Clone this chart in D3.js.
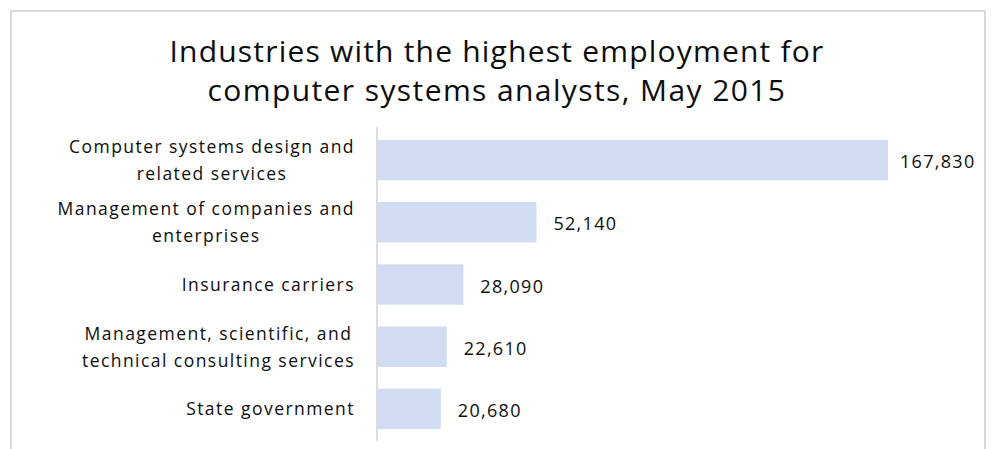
<!DOCTYPE html>
<html>
<head>
<meta charset="utf-8">
<script src="https://cdn.jsdelivr.net/npm/d3@7"></script>
<style>
  html, body { margin: 0; padding: 0; background: #fff; }
  svg { display: block; }
  text { font-family: "Open Sans", "Noto Sans", sans-serif; fill: #0d0d0d; }
</style>
</head>
<body>
<svg id="chart" width="992" height="449"></svg>
<script>
// Employment by industry, computer systems analysts, May 2015
const titleLines = [
  "Industries with the highest employment for",
  "computer systems analysts, May 2015"
];
const categories = [
  "Computer systems design and\nrelated services",
  "Management of companies and\nenterprises",
  "Insurance carriers",
  "Management, scientific, and\ntechnical consulting services",
  "State government"
];
const employment = [167830, 52140, 28090, 22610, 20680];

const rows = categories.map((c, i) => ({ category: c, value: employment[i] }));

const svg = d3.select("#chart");

// outer frame (open at the bottom edge of the view)
svg.append("rect")
  .attr("x", 11).attr("y", 11)
  .attr("width", 974).attr("height", 470)
  .attr("fill", "#fff")
  .attr("stroke", "#d9d9d9")
  .attr("stroke-width", 2);

// title
svg.append("g").selectAll("text")
  .data(titleLines)
  .join("text")
  .attr("x", 497)
  .attr("y", (d, i) => 62 + i * 39)
  .attr("text-anchor", "middle")
  .attr("font-size", 30)
  .attr("letter-spacing", (d, i) => i === 0 ? 1.2 : 1.4)
  .text(d => d);

const x = d3.scaleLinear()
  .domain([0, d3.max(employment)])
  .range([378, 888]);

const y = d3.scaleBand()
  .domain(categories)
  .range([129, 440])
  .paddingInner(0.35)
  .paddingOuter(0.175);

// bars
svg.append("g").selectAll("rect")
  .data(rows)
  .join("rect")
  .attr("x", x(0))
  .attr("y", d => y(d.category))
  .attr("width", d => x(d.value) - x(0))
  .attr("height", y.bandwidth())
  .attr("fill", "#cfdcf1");

// category axis line
const axis = svg.append("g")
  .attr("transform", `translate(${x(0) - 1},0)`)
  .call(d3.axisLeft(y).tickSize(0).tickSizeOuter(0).tickFormat(""));
axis.select(".domain").attr("stroke", "#d4d4d4").attr("stroke-width", 1.6)
  .attr("d", `M0,127V441`);

// category labels: each block right-aligned, lines centred within the block
const labelRight = 355;
const catG = svg.append("g");
rows.forEach(d => {
  const lines = d.category.split("\n");
  const cy = y(d.category) + y.bandwidth() / 2;
  const g = catG.append("g");
  const texts = g.selectAll("text")
    .data(lines)
    .join("text")
    .attr("font-size", 17.5)
    .attr("letter-spacing", 1.45)
    .attr("text-anchor", "middle")
    .attr("y", (t, i) => cy + 6.5 + (i - (lines.length - 1) / 2) * 27)
    .text(t => t);
  const widest = d3.max(texts.nodes(), n => n.getComputedTextLength());
  texts.attr("x", labelRight - widest / 2);
});

// value labels
const fmt = d3.format(",");
svg.append("g").selectAll("text")
  .data(rows)
  .join("text")
  .attr("x", d => x(d.value) + (d.value === d3.max(employment) ? 12 : 17))
  .attr("y", d => y(d.category) + y.bandwidth() / 2 + 8)
  .attr("font-size", 18)
  .attr("letter-spacing", 1.3)
  .text(d => fmt(d.value));
</script>
</body>
</html>
